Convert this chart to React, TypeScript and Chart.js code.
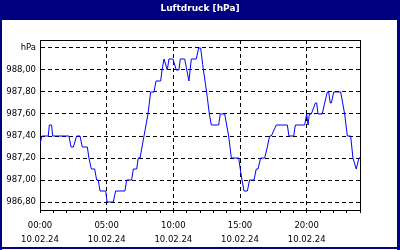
import React, { useEffect, useRef } from 'react';
import { Chart, registerables } from 'chart.js';

Chart.register(...registerables);

const chartTitle = 'Luftdruck [hPa]';
const unitLabel = 'hPa';
const dateLabel = '10.02.24';

// time in hours since 10.02.24 00:00
const hours = [
  0.0, 0.15, 0.62, 0.7, 0.87, 0.95, 2.17, 2.33, 2.5, 2.75, 3.0, 3.17, 3.55, 3.67,
  3.85, 4.1, 4.25, 4.37, 4.5, 4.93, 5.03, 5.5, 5.67, 6.37, 6.5, 6.87, 7.0, 7.25,
  7.37, 7.5, 7.65, 7.8, 7.95, 8.1, 8.3, 8.55, 8.7, 9.05, 9.15, 9.3, 9.55, 9.67,
  9.97, 10.22, 10.42, 10.52, 10.85, 11.17, 11.35, 11.72, 11.9, 12.05, 12.2, 12.4,
  12.55, 12.7, 12.85, 13.4, 13.52, 13.85, 14.0, 14.15, 14.35, 14.9, 15.02, 15.15,
  15.3, 15.55, 15.72, 16.05, 16.22, 16.35, 16.55, 16.85, 17.05, 17.22, 17.35, 17.72,
  18.55, 18.67, 19.03, 19.15, 19.85, 20.0, 20.1, 20.2, 20.35, 20.65, 20.75, 20.85,
  21.17, 21.35, 21.55, 21.65, 21.77, 21.85, 22.03, 22.55, 22.85, 23.05, 23.3, 23.47,
  23.72, 23.92, 24.0,
];

const pressure = [
  987.33, 987.4, 987.4, 987.5, 987.5, 987.4, 987.4, 987.3, 987.3, 987.4, 987.4, 987.3, 987.3, 987.2,
  987.1, 987.1, 987.0, 987.0, 986.9, 986.9, 986.8, 986.8, 986.9, 986.9, 987.0, 987.0, 987.1, 987.1,
  987.2, 987.2, 987.3, 987.4, 987.5, 987.6, 987.8, 987.8, 987.9, 987.9, 988.0, 988.1, 988.0, 988.1,
  988.1, 988.0, 988.0, 988.1, 988.1, 987.9, 988.1, 988.1, 988.2, 988.2, 988.05, 987.88,
  987.75, 987.6, 987.5, 987.5, 987.6, 987.6, 987.5, 987.4, 987.2, 987.2, 987.1, 987.0,
  986.9, 986.9, 987.0, 987.0, 987.1, 987.1, 987.2, 987.2, 987.3, 987.4, 987.4, 987.5,
  987.5, 987.4, 987.4, 987.5, 987.5, 987.6, 987.5, 987.6, 987.6, 987.7, 987.7, 987.6,
  987.6, 987.7, 987.8, 987.8, 987.7, 987.7, 987.8, 987.8, 987.6, 987.4, 987.4, 987.2,
  987.1, 987.2, 987.2,
];

const yTickValues = [986.8, 987.0, 987.2, 987.4, 987.6, 987.8, 988.0, 988.2];
const xTickHours = [
  0, 1, 2, 3, 4, 5, 6, 7, 8, 9, 10, 11, 12, 13, 14, 15, 16, 17, 18, 19, 20, 21, 22, 23, 24,
];
const xLabelHours = [0, 5, 10, 15, 20];
const yMin = 986.7273;
const yMax = 988.2727;
const xMin = 0;
const xMax = 24;

const NAVY = '#000080';
const FONT = 'DejaVu Sans';

function hhmm(h: number): string {
  const hh = Math.floor(h);
  const mm = Math.round((h - hh) * 60);
  return String(hh).padStart(2, '0') + ':' + String(mm).padStart(2, '0');
}

export default function App() {
  const ref = useRef<HTMLCanvasElement>(null);

  useEffect(() => {
    if (!ref.current) return;
    const framePlugin = {
      id: 'frame',
      beforeDraw(chart: any) {
        const { ctx, width, height } = chart;
        ctx.save();
        ctx.fillStyle = '#ffffff';
        ctx.fillRect(0, 0, width, height);
        ctx.fillStyle = NAVY;
        ctx.fillRect(0, 0, width, 20);
        ctx.fillRect(0, 0, 2, height);
        ctx.fillRect(width - 3, 0, 3, height);
        ctx.fillRect(0, height - 3, width, 2);
        ctx.restore();
      },
      afterDraw(chart: any) {
        const { ctx, chartArea } = chart;
        ctx.save();
        ctx.strokeStyle = '#000000';
        ctx.lineWidth = 1;
        ctx.setLineDash([]);
        ctx.beginPath();
        ctx.moveTo(chartArea.left, chartArea.top + 0.5);
        ctx.lineTo(chartArea.right + 1, chartArea.top + 0.5);
        ctx.moveTo(chartArea.right + 0.5, chartArea.top);
        ctx.lineTo(chartArea.right + 0.5, chartArea.bottom + 1);
        ctx.stroke();
        ctx.restore();
      },
    };

    const chart = new Chart(ref.current, {
      type: 'line',
      data: {
        datasets: [
          {
            data: hours.map((h, i) => ({ x: h, y: pressure[i] })),
            borderColor: '#0000ff',
            borderWidth: 1,
            pointRadius: 0,
            tension: 0,
            fill: false,
            xAxisID: 'x',
            yAxisID: 'y',
          },
        ],
      },
      options: {
        animation: false,
        responsive: false,
        devicePixelRatio: 1,
        layout: { padding: 0 },
        plugins: {
          legend: { display: false },
          tooltip: { enabled: false },
          title: {
            display: true,
            text: chartTitle,
            color: '#ffffff',
            font: { family: FONT, size: 9, weight: 'bold', lineHeight: 1.2 },
            padding: { top: 3, bottom: 26.2 },
          },
        },
        scales: {
          x: {
            type: 'linear',
            position: 'bottom',
            min: xMin,
            max: xMax,
            afterBuildTicks: (s: any) => {
              s.ticks = xTickHours.map((v) => ({ value: v }));
            },
            afterFit: (s: any) => {
              s.height = 40;
            },
            ticks: {
              autoSkip: false,
              maxRotation: 0,
              minRotation: 0,
              color: '#000000',
              padding: 5.5,
              font: { family: FONT, size: 8.5, lineHeight: 14 / 8.5 },
              callback: (v: any) =>
                xLabelHours.includes(Number(v)) ? [hhmm(Number(v)), dateLabel] : '',
            },
            grid: {
              color: (c: any) =>
                c.tick && xLabelHours.includes(c.tick.value) && c.tick.value > xMin
                  ? '#000000'
                  : 'rgba(0,0,0,0)',
              tickColor: '#000000',
              tickLength: 3,
              lineWidth: 1,
            },
            border: { display: true, color: '#000000', width: 1, dash: [4, 3] },
          },
          y: {
            type: 'linear',
            position: 'left',
            min: yMin,
            max: yMax,
            afterBuildTicks: (s: any) => {
              s.ticks = yTickValues.map((v) => ({ value: v }));
            },
            afterFit: (s: any) => {
              s.width = 40;
            },
            ticks: {
              color: '#000000',
              padding: 4,
              font: { family: FONT, size: 8.5 },
              callback: (v: any) =>
                Number(v) >= yTickValues[yTickValues.length - 1] - 0.01
                  ? unitLabel
                  : Number(v).toFixed(2).replace('.', ','),
            },
            grid: { color: '#000000', drawTicks: false, lineWidth: 1 },
            border: { display: true, color: '#000000', width: 1, dash: [4, 3] },
          },
          yRight: {
            type: 'linear',
            position: 'right',
            display: true,
            min: 0,
            max: 1,
            grid: { display: false, drawTicks: false },
            border: { display: false },
            ticks: { display: false },
            afterFit: (s: any) => {
              s.width = 40;
            },
          },
        },
      },
      plugins: [framePlugin],
    } as any);

    return () => chart.destroy();
  }, []);

  return (
    <div style={{ position: 'absolute', left: 0, top: 0, width: 400, height: 250 }}>
      <canvas ref={ref} width={400} height={250} style={{ display: 'block' }} />
    </div>
  );
}
